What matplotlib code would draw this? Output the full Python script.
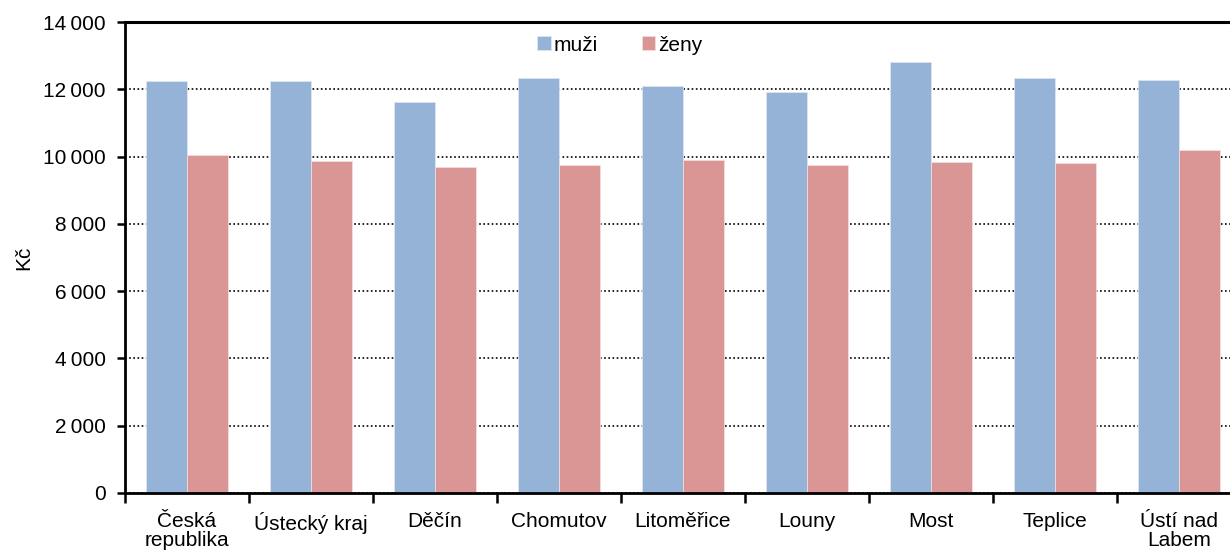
import matplotlib.pyplot as plt
import numpy as np
from matplotlib.ticker import FuncFormatter, MultipleLocator

plt.rcParams['font.family'] = ['Liberation Sans', 'DejaVu Sans']

# data
categories = ['Česká\nrepublika', 'Ústecký kraj', 'Děčín', 'Chomutov', 'Litoměřice',
              'Louny', 'Most', 'Teplice', 'Ústí nad\nLabem']
muzi = [12240, 12240, 11630, 12350, 12110, 11930, 12820, 12350, 12290]
zeny = [10040, 9860, 9680, 9740, 9910, 9740, 9850, 9800, 10200]

fig = plt.figure(figsize=(12.3, 5.55), dpi=100)
ax = fig.add_axes([125 / 1230, 1 - 493 / 555, (1241 - 125) / 1230, (493 - 22) / 555])

x = np.arange(len(categories))
w = 0.333
ax.bar(x - w / 2, muzi, w, color='#95B3D7', edgecolor='#DCE6F2', linewidth=0.6, label='muži', zorder=2)
ax.bar(x + w / 2, zeny, w, color='#D99694', edgecolor='#F2DCDB', linewidth=0.6, label='ženy', zorder=2)

ax.set_xlim(-0.5, len(categories) - 0.5)
ax.set_ylim(0, 14000)
ax.yaxis.set_major_locator(MultipleLocator(2000))
ax.yaxis.set_major_formatter(FuncFormatter(lambda v, p: f'{int(v):,}'.replace(',', '\u2009')))
ax.grid(axis='y', color='black', linestyle=(0, (1, 1.5)), linewidth=1.2, zorder=1)

fs = 15
ax.set_xticks(x)
ax.set_xticklabels(categories, fontsize=fs, linespacing=0.95)
ax.set_xticks(np.arange(len(categories) + 1) - 0.5, minor=True)
ax.tick_params(axis='x', which='major', length=0, pad=14)
ax.tick_params(axis='x', which='minor', length=7, width=1.8, direction='out')
ax.tick_params(axis='y', length=6, width=1.8, direction='out', labelsize=fs, pad=8)

for s in ['left', 'bottom']:
    ax.spines[s].set_linewidth(2)
ax.spines['top'].set_linewidth(2.2)
ax.spines['right'].set_visible(False)

ax.set_ylabel('Kč', fontsize=fs)
ax.yaxis.set_label_coords(-0.082, 0.5)

ax.legend(loc='center', bbox_to_anchor=(0.4435, 0.951), ncol=2, frameon=False, fontsize=fs,
          handlelength=0.65, handleheight=0.65, handletextpad=0.15, columnspacing=2.1)

fig.savefig('out.png', dpi=100)
